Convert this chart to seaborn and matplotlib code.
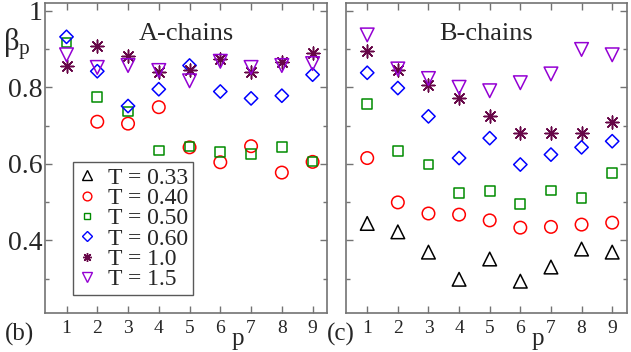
import numpy as np
import matplotlib
matplotlib.use("Agg")
import matplotlib.pyplot as plt
import seaborn as sns
from matplotlib.lines import Line2D
from matplotlib.ticker import MultipleLocator

# ------------------ Data ------------------
p = [1, 2, 3, 4, 5, 6, 7, 8, 9]
temps = ["0.33", "0.40", "0.50", "0.60", "1.0", "1.5"]

# A-chains (no T = 0.33 points shown)
a_040 = [None, 0.710, 0.705, 0.748, 0.643, 0.604, 0.646, 0.577, 0.605]
a_050 = [0.917, 0.775, 0.737, 0.635, 0.645, 0.630, 0.625, 0.643, 0.606]
a_060 = [0.932, 0.842, 0.751, 0.795, 0.857, 0.789, 0.771, 0.778, 0.833]
a_100 = [0.855, 0.909, 0.882, 0.840, 0.844, 0.873, 0.839, 0.867, 0.891]
a_150 = [0.885, 0.852, 0.857, 0.844, 0.817, 0.868, 0.852, 0.857, 0.862]

# B-chains
b_033 = [0.444, 0.422, 0.369, 0.298, 0.351, 0.293, 0.330, 0.377, 0.369]
b_040 = [0.615, 0.499, 0.470, 0.467, 0.452, 0.433, 0.435, 0.441, 0.446]
b_050 = [0.756, 0.633, 0.598, 0.523, 0.529, 0.494, 0.530, 0.511, 0.576]
b_060 = [0.838, 0.798, 0.724, 0.615, 0.667, 0.598, 0.624, 0.643, 0.659]
b_100 = [0.896, 0.846, 0.806, 0.771, 0.724, 0.680, 0.680, 0.680, 0.710]
b_150 = [0.937, 0.848, 0.823, 0.800, 0.791, 0.812, 0.835, 0.899, 0.885]

ytick_vals = [0.4, 0.6, 0.8, 1.0]
ytick_labels = ["0.4", "0.6", "0.8", "1"]

# ------------------ Style ------------------
sns.set_style("ticks")
plt.rcParams["font.family"] = "serif"
plt.rcParams["font.serif"] = ["Liberation Serif", "DejaVu Serif"]
plt.rcParams["mathtext.fontset"] = "custom"
plt.rcParams["mathtext.rm"] = "Liberation Serif"
plt.rcParams["mathtext.it"] = "Liberation Serif:italic"

colors = ["black", "#ff0000", "#008b00", "#0000ff", "#670748", "#9400d3"]
markers = ["^", "o", "s", "D", (8, 2, 0), "v"]
msizes = [9.8, 9.0, 7.0, 6.8, 9.2, 9.8]
filled = [True, True, True, True, False, True]
spine_col = "0.45"

fig = plt.figure(figsize=(6.31, 3.52), dpi=100)
axA = fig.add_axes([0.0713, 0.111, 0.447, 0.880])
axB = fig.add_axes([0.548, 0.111, 0.445, 0.880])


def draw(ax, series):
    for i, vals in enumerate(series):
        if vals is None:
            continue
        xs = [x for x, v in zip(p, vals) if v is not None]
        ys = [v for v in vals if v is not None]
        if filled[i]:
            kw = dict(facecolor="none", edgecolor=colors[i])
        else:
            kw = dict(color=colors[i])
        sns.scatterplot(x=xs, y=ys, ax=ax, marker=markers[i], s=msizes[i] ** 2,
                        linewidth=1.1, legend=False, zorder=3, **kw)


draw(axA, [None, a_040, a_050, a_060, a_100, a_150])
draw(axB, [b_033, b_040, b_050, b_060, b_100, b_150])

for ax in (axA, axB):
    ax.set_xlim(0.3, 9.47)
    ax.set_ylim(0.21, 1.02)
    ax.set_xticks(p)
    ax.set_yticks(ytick_vals)
    ax.yaxis.set_minor_locator(MultipleLocator(0.1))
    ax.tick_params(which="both", direction="in", top=True, right=True,
                   color=spine_col, width=1.0)
    ax.tick_params(which="major", length=5)
    ax.tick_params(which="minor", length=3)
    ax.tick_params(axis="x", labelsize=14, pad=5)
    for s in ax.spines.values():
        s.set_color(spine_col)
        s.set_linewidth(1.2)
    ax.set_xlabel("")
    ax.set_ylabel("")
    ax.text(6.57, -0.105, "p", transform=ax.get_xaxis_transform(),
            ha="center", va="baseline", fontsize=18)

axA.set_yticklabels(ytick_labels)
axA.tick_params(axis="y", labelsize=20, pad=1.5)
axB.tick_params(axis="y", labelleft=False)

axA.text(0.5, 0.9, "A-chains", transform=axA.transAxes, ha="center",
         va="center", fontsize=19)
axB.text(0.5, 0.9, "B-chains", transform=axB.transAxes, ha="center",
         va="center", fontsize=19)

# ------------------ Legend ------------------
handles = []
for i in range(len(temps)):
    fc = "none" if filled[i] else colors[i]
    handles.append(Line2D([], [], linestyle="none", marker=markers[i],
                          markersize=msizes[i] * 0.7, markerfacecolor=fc,
                          markeredgecolor=colors[i], markeredgewidth=1.0))
labels = [f"T = {t}" for t in temps]
leg = axA.legend(handles, labels, loc="lower left", bbox_to_anchor=(0.099, 0.058),
                 borderaxespad=0, fontsize=17, frameon=True, fancybox=False,
                 handlelength=0.8, handletextpad=0.5, labelspacing=-0.05,
                 borderpad=0.2, framealpha=1)
leg.get_frame().set_edgecolor("0.35")
leg.get_frame().set_linewidth(1.0)

# ------------------ Panel labels ------------------
fig.text(0.005, 1 - 50 / 352, r"$\mathrm{\beta}_{\mathrm{p}}$", fontsize=22,
         ha="left", va="baseline")
fig.text(0.008, 0.018, "(b)", fontsize=18, ha="left", va="bottom")
fig.text(0.518, 0.018, "(c)", fontsize=18, ha="left", va="bottom")

fig.savefig("out.png", dpi=100)
